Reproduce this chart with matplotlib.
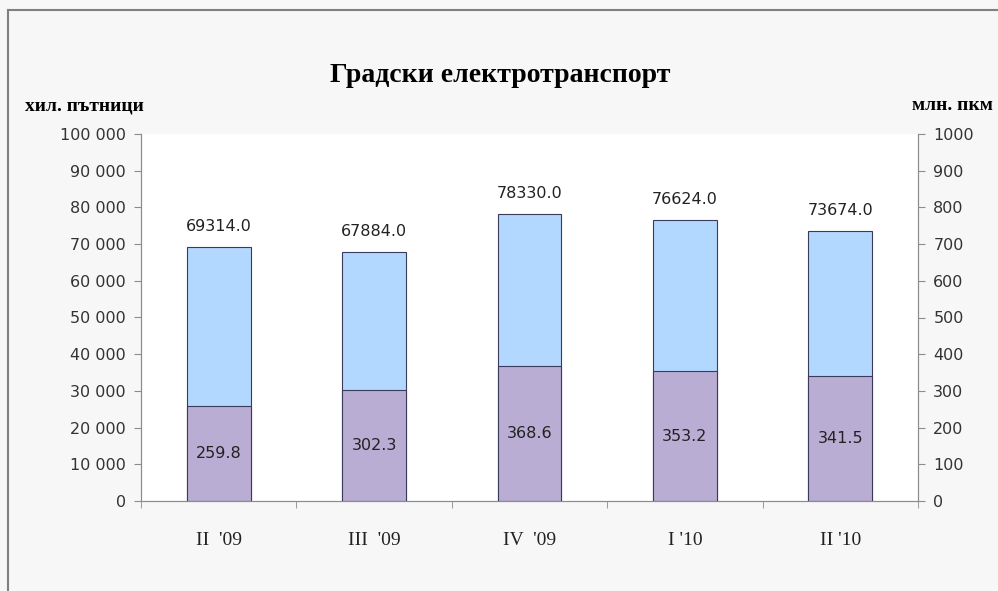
import matplotlib.pyplot as plt
from matplotlib.lines import Line2D
from matplotlib.ticker import FuncFormatter, MultipleLocator
import numpy as np

quarters = ["II  '09", "III  '09", "IV  '09", "I '10", "II '10"]
passengers = [69314.0, 67884.0, 78330.0, 76624.0, 73674.0]  # хил. пътници
pkm = [259.8, 302.3, 368.6, 353.2, 341.5]  # млн. пкм

blue = '#b3d8ff'
purple = '#b9add3'
edge = '#3a3a5a'
grey = '#8c8c8c'

fig = plt.figure(figsize=(9.98, 5.91), dpi=100, facecolor='#f7f7f7')
fig.add_artist(Line2D([8/998, 8/998], [0, 1-10/591], transform=fig.transFigure, color='#808080', lw=1.5))
fig.add_artist(Line2D([8/998, 1], [1-10/591, 1-10/591], transform=fig.transFigure, color='#808080', lw=1.5))

ax = fig.add_axes([141/998, 1-501/591, (918-141)/998, (501-134)/591])
ax.set_facecolor('white')
x = np.arange(len(quarters))
w = 0.41

ax.bar(x, passengers, w, color=blue, edgecolor=edge, linewidth=0.8)
ax.set_ylim(0, 100000)
ax.set_xlim(-0.5, len(quarters) - 0.5)
ax.yaxis.set_major_locator(MultipleLocator(10000))
ax.yaxis.set_major_formatter(FuncFormatter(lambda v, p: f'{int(v):,}'.replace(',', ' ')))

ax2 = ax.twinx()
ax2.bar(x, pkm, w, color=purple, edgecolor=edge, linewidth=0.8)
ax2.set_ylim(0, 1000)
ax2.yaxis.set_major_locator(MultipleLocator(100))

for a in (ax, ax2):
    for s in a.spines.values():
        s.set_color(grey)
    a.spines['top'].set_visible(False)
    a.tick_params(axis='y', colors=grey, labelcolor='#333333', labelsize=11.5, length=5, pad=6)

ax.set_xticks(x)
ax.set_xticklabels(quarters, family='Liberation Serif', fontsize=14, color='#222222')
ax.tick_params(axis='x', length=0, pad=22)
ax.set_xticks(np.arange(-0.5, len(quarters)), minor=True)
ax.tick_params(axis='x', which='minor', length=5, direction='out', color=grey)

for xi, v in zip(x, passengers):
    ax.annotate(f'{v:.1f}', (xi, v), xytext=(0, 9), textcoords='offset points',
                ha='center', va='bottom', fontsize=11.5, color='#222222')
for xi, v in zip(x, pkm):
    ax2.text(xi, v / 2, f'{v:.1f}', ha='center', va='center', fontsize=11.5, color='#222222')

fig.text(500/998, 1-75/591, 'Градски електротранспорт', ha='center', va='center',
         family='Liberation Serif', weight='bold', fontsize=20)
fig.text(25/998, 1-106/591, 'хил. пътници', ha='left', va='center',
         family='Liberation Serif', weight='bold', fontsize=14)
fig.text(993/998, 1-106/591, 'млн. пкм', ha='right', va='center',
         family='Liberation Serif', weight='bold', fontsize=14)

fig.savefig('out.png', dpi=100, facecolor=fig.get_facecolor())
